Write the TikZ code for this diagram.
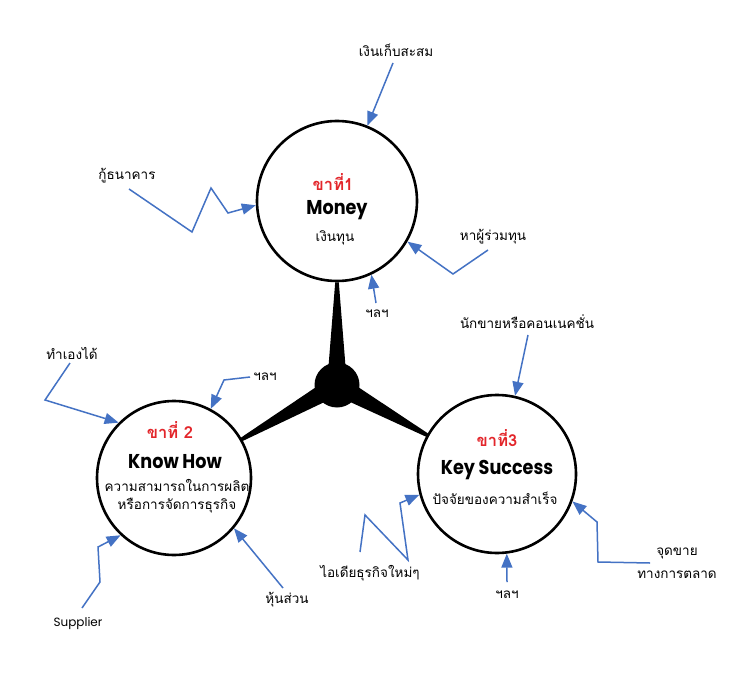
\documentclass[tikz,border=0pt]{standalone}
\usepackage{fontspec}
\setmainfont{Poppins}
\newfontfamily\titlefont{Poppins}[FakeStretch=0.88]
\newfontfamily\thai[Script=Thai]{Loma}
\usetikzlibrary{arrows.meta,calc}
\definecolor{arrblue}{HTML}{4472C4}
\definecolor{legred}{HTML}{E3262B}
\tikzset{
  bigcircle/.style={circle,draw=black,line width=2.6pt,fill=white,inner sep=0pt,minimum size=#1},
  lbl/.style={inner sep=0pt,font=\thai\fontsize{13.5}{16}\selectfont},
  latlbl/.style={inner sep=0pt,font=\fontsize{12}{14}\selectfont},
  legtitle/.style={inner sep=0pt,text=legred,font=\thai\bfseries\fontsize{16.5}{18}\selectfont},
  maintitle/.style={inner sep=0pt,font=\titlefont\bfseries\fontsize{20}{22}\selectfont},
  subtext/.style={inner sep=0pt,align=center,font=\thai\fontsize{13.5}{18}\selectfont},
  feed/.style={draw=arrblue,line width=1.5pt,line join=miter,-{Triangle[length=14pt,width=11pt]}},
  spoke/.style={fill=black}
}
\begin{document}
\begin{tikzpicture}[x=1pt,y=-1pt]
\fill[white] (0,0) rectangle (735,684);

% main circles
\node[bigcircle=160pt] (money) at (337,201) {};
\node[bigcircle=154pt] (know) at (174,478) {};
\node[bigcircle=158pt] (key) at (497,474) {};
\node[circle,fill=black,inner sep=0pt,minimum size=45pt] (hub) at (337,385) {};

% spokes
\coordinate (tm) at (money.south);
\coordinate (tk) at ($(know.center)!77pt!(hub.center)$);
\coordinate (ts) at ($(key.center)!79pt!(hub.center)$);
\foreach \t in {tm,tk,ts}{
  \fill[spoke] ($(hub.center)!10pt!90:(\t)$) -- ($(\t)!1.8pt!-90:(hub.center)$)
     -- ($(\t)!1.8pt!90:(hub.center)$) -- ($(hub.center)!10pt!-90:(\t)$) -- cycle;
}

% texts inside circles
\node[legtitle] (m1) at (333,182) {ขาที่1};
\node[maintitle] (m2) at (337,210) {Money};
\node[subtext] (m3) at (335,238) {เงินทุน};

\node[legtitle] (k1) at (170,430) {ขาที่ 2};
\node[maintitle] (k2) at (175,462) {Know How};
\node[subtext] (k3) at (177,496) {ความสามารถในการผลิต\\หรือการจัดการธุรกิจ};

\node[legtitle] (s1) at (497,438) {ขาที่3};
\node[maintitle] (s2) at (497,470) {Key Success};
\node[subtext] (s3) at (495,498) {ปัจจัยของความสำเร็จ};

% outside labels
\node[lbl] (a1) at (396,50) {เงินเก็บสะสม};
\node[lbl] (a2) at (127,176) {กู้ธนาคาร};
\node[lbl] (a3) at (493,237) {หาผู้ร่วมทุน};
\node[lbl] (a4) at (377,314) {ฯลฯ};
\node[lbl] (a5) at (527,322) {นักขายหรือคอนเนคชั่น};
\node[lbl] (a6) at (72,353) {ทำเองได้};
\node[lbl] (a7) at (265,377) {ฯลฯ};
\node[latlbl] (a8) at (78,623) {Supplier};
\node[lbl] (a9) at (287,600) {หุ้นส่วน};
\node[lbl] (a10) at (370,573) {ไอเดียธุรกิจใหม่ๆ};
\node[lbl] (a11) at (507,595) {ฯลฯ};
\node[subtext,font=\thai\fontsize{13.5}{23}\selectfont] (a12) at (677,563) {จุดขาย\\ทางการตลาด};

% start points of connectors
\coordinate (c1) at (393,63);
\coordinate (c2) at (129,189);
\coordinate (c3) at (488,250);
\coordinate (c4) at (376,303);
\coordinate (c5) at (528,335);
\coordinate (c6) at (70,363);
\coordinate (c7) at (250,377);
\coordinate (c8) at (82,608);
\coordinate (c9) at (283,588);
\coordinate (c10) at (360,552);
\coordinate (c11) at (507,582);
\coordinate (c12) at (650,563);

% connectors
\draw[feed] (c1) -- (money.68);
\draw[feed] (c2) -- (192,232) -- (211,188) -- (228,213) -- (money.183);
\draw[feed] (c3) -- (453,274) -- (money.-30);
\draw[feed] (c4) -- (money.-65);
\draw[feed] (c5) -- (key.77);
\draw[feed] (c6) -- (45,400) -- (know.135);
\draw[feed] (c7) -- (224,380) -- (know.62);
\draw[feed] (c8) -- (100,582) -- (98,547) -- (know.227);
\draw[feed] (c9) -- (know.-40);
\draw[feed] (c10) -- (365,515) -- (408,560) -- (400,503) -- (key.195);
\draw[feed] (c11) -- (key.-83);
\draw[feed] (c12) -- (598,562) -- (597,522) -- (key.-20);
\end{tikzpicture}
\end{document}
